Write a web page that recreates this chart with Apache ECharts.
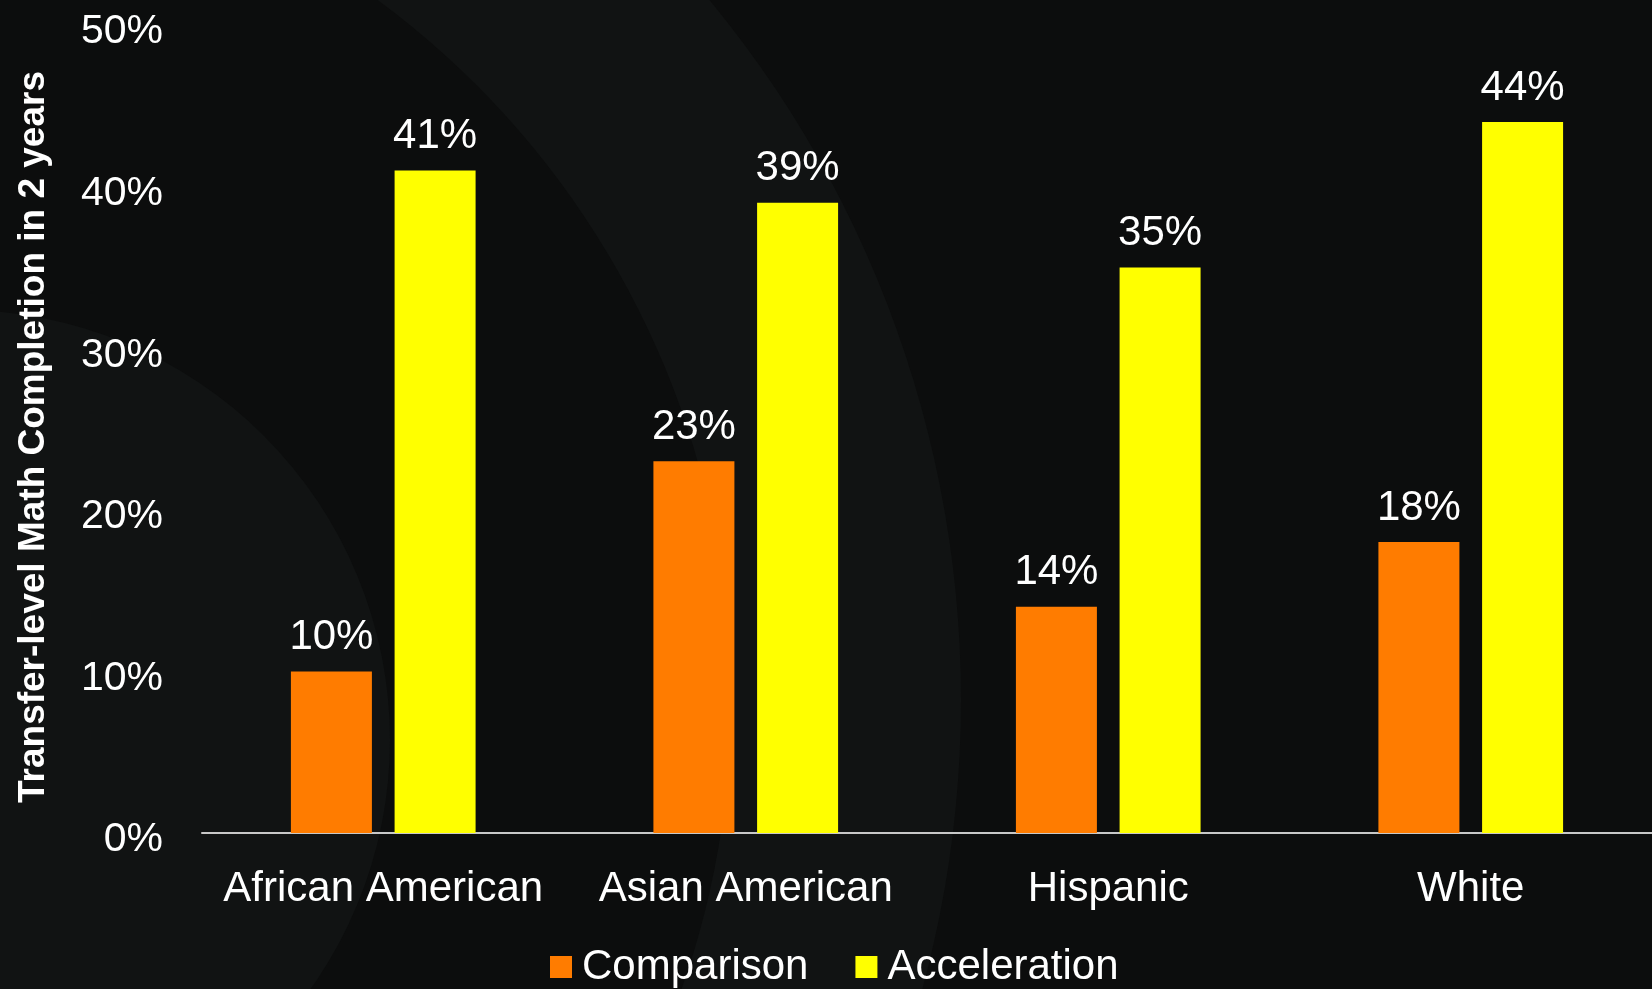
<!DOCTYPE html>
<html>
<head>
<meta charset="utf-8">
<title>Transfer-level Math Completion</title>
<script src="https://cdn.jsdelivr.net/npm/echarts@6/dist/echarts.min.js"></script>
<style>
  html, body { margin: 0; padding: 0; background: #0c0d0d; }
  #chart { width: 1652px; height: 989px; }
</style>
</head>
<body>
<div id="chart"></div>
<script>
// Student groups along the x axis
const categories = ['African American', 'Asian American', 'Hispanic', 'White'];
// Completion rates in percent
const comparison = [10, 23, 14, 18];
const acceleration = [41, 39, 35, 44];
// Y axis range and step (percent)
const yMin = 0;
const yMax = 50;
const yStep = 10;

const FONT = '"Liberation Sans", Arial, sans-serif';
const bgDark = '#0c0d0d';
const bgLight = '#111313';

const chart = echarts.init(document.getElementById('chart'), null, { renderer: 'canvas' });

const labelStyle = {
  show: true,
  position: 'top',
  distance: 13,
  color: '#ffffff',
  fontFamily: FONT,
  fontSize: 42,
  formatter: p => p.value + '%'
};

chart.setOption({
  backgroundColor: bgDark,
  animation: false,
  // faint concentric rings of the slide background
  graphic: {
    elements: [
      { type: 'circle', silent: true, z: -10, shape: { cx: -139, cy: 700, r: 1100 }, style: { fill: bgLight } },
      { type: 'circle', silent: true, z: -9, shape: { cx: -139, cy: 700, r: 870 }, style: { fill: bgDark } },
      { type: 'circle', silent: true, z: -8, shape: { cx: -40, cy: 740, r: 430 }, style: { fill: bgLight } }
    ]
  },
  // plot runs a few pixels past the right edge of the canvas
  grid: { left: 202, width: 1455, top: 25, bottom: 156, containLabel: false },
  legend: {
    data: ['Comparison', 'Acceleration'],
    left: 550,
    top: 946,
    padding: 0,
    itemWidth: 22,
    itemHeight: 22,
    itemGap: 47,
    icon: 'rect',
    textStyle: { color: '#ffffff', fontFamily: FONT, fontSize: 42, padding: [0, 0, 0, 5] }
  },
  xAxis: {
    type: 'category',
    data: categories,
    axisLine: { show: true, lineStyle: { color: '#c8c8c8', width: 2 } },
    axisTick: { show: false },
    axisLabel: { color: '#ffffff', fontFamily: FONT, fontSize: 42, margin: 35, interval: 0 }
  },
  yAxis: {
    type: 'value',
    min: yMin,
    max: yMax,
    interval: yStep,
    name: 'Transfer-level Math Completion in 2 years',
    nameLocation: 'middle',
    nameGap: 150,
    nameTextStyle: { color: '#ffffff', fontFamily: FONT, fontSize: 37, fontWeight: 'bold', padding: [0, 16, 0, 0] },
    axisLine: { show: false },
    axisTick: { show: false },
    splitLine: { show: false },
    axisLabel: {
      color: '#ffffff', fontFamily: FONT, fontSize: 41, margin: 39,
      verticalAlign: 'top', lineHeight: 14,
      formatter: '{value}%'
    }
  },
  series: [
    {
      name: 'Comparison',
      type: 'bar',
      data: comparison,
      barWidth: 81,
      barGap: '28%',
      itemStyle: { color: '#ff7c00' },
      label: labelStyle
    },
    {
      name: 'Acceleration',
      type: 'bar',
      data: acceleration,
      barWidth: 81,
      barGap: '28%',
      itemStyle: { color: '#ffff00' },
      label: labelStyle
    }
  ]
});
</script>
</body>
</html>
